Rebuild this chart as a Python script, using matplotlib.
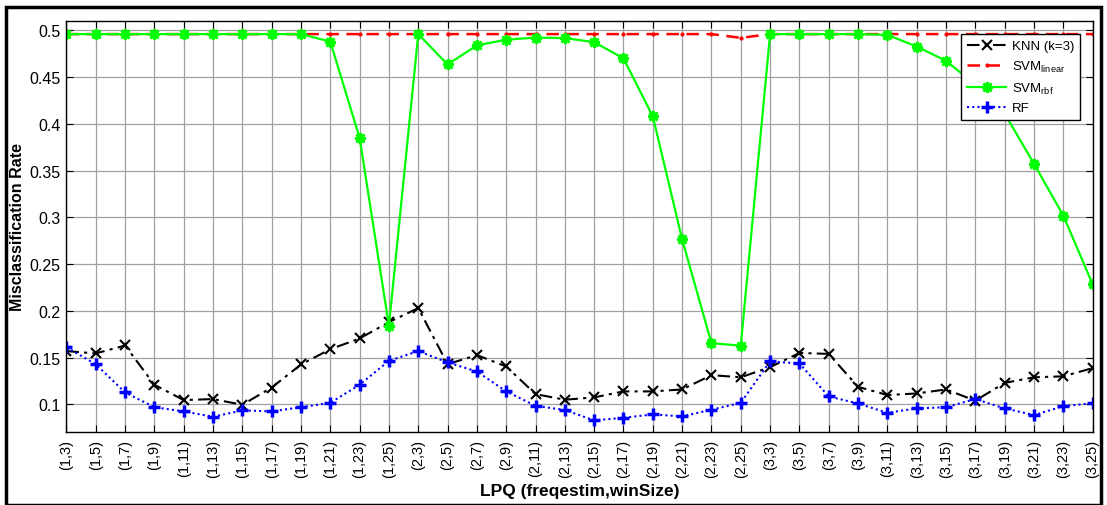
import numpy as np
import matplotlib.pyplot as plt
from matplotlib.patches import Rectangle

plt.rcParams['font.family'] = ['Liberation Sans', 'DejaVu Sans']
plt.rcParams['mathtext.fontset'] = 'custom'
plt.rcParams['mathtext.rm'] = 'Liberation Sans'
plt.rcParams['mathtext.it'] = 'Liberation Sans'
plt.rcParams['mathtext.bf'] = 'Liberation Sans:bold'

# categories: LPQ (freqestim, winSize)
freqs = [1, 2, 3]
win_sizes = [3, 5, 7, 9, 11, 13, 15, 17, 19, 21, 23, 25]
labels = ['(%d,%d)' % (f, w) for f in freqs for w in win_sizes]

knn = [0.157, 0.1545, 0.163, 0.121, 0.1046, 0.1057, 0.0996, 0.118, 0.1427, 0.159, 0.1705, 0.188,
       0.203, 0.143, 0.1527, 0.1406, 0.111, 0.105, 0.1075, 0.1139, 0.1139, 0.116, 0.1313, 0.129,
       0.1398, 0.155, 0.154, 0.1188, 0.110, 0.1117, 0.116, 0.104, 0.123, 0.129, 0.130, 0.1388]
svm_linear = [0.496, 0.496, 0.496, 0.496, 0.496, 0.496, 0.496, 0.496, 0.496, 0.496, 0.496, 0.496,
              0.496, 0.496, 0.496, 0.496, 0.496, 0.496, 0.496, 0.496, 0.496, 0.496, 0.496, 0.492,
              0.496, 0.496, 0.496, 0.496, 0.496, 0.496, 0.496, 0.496, 0.496, 0.496, 0.496, 0.496]
svm_rbf = [0.496, 0.496, 0.496, 0.496, 0.496, 0.496, 0.496, 0.496, 0.496, 0.488, 0.385, 0.184,
           0.496, 0.4635, 0.484, 0.490, 0.4923, 0.4917, 0.4874, 0.470, 0.408, 0.2766, 0.1655, 0.1628,
           0.496, 0.496, 0.496, 0.496, 0.4952, 0.4827, 0.4674, 0.442, 0.411, 0.3574, 0.302, 0.2285]
rf = [0.161, 0.143, 0.1128, 0.097, 0.0925, 0.0868, 0.0936, 0.0925, 0.097, 0.1017, 0.121, 0.1466,
      0.157, 0.1449, 0.1352, 0.1139, 0.0985, 0.094, 0.0829, 0.0857, 0.0893, 0.0872, 0.0943, 0.1017,
      0.146, 0.1438, 0.1085, 0.101, 0.091, 0.0957, 0.097, 0.1057, 0.0957, 0.0886, 0.098, 0.1014]

x = np.arange(1, len(labels) + 1)

fig = plt.figure(figsize=(11.07, 5.06), dpi=100)
ax = fig.add_axes([0.060, 0.1443, 0.927, 0.8122])

ax.plot(x, knn, color='black', linestyle=(0, (6, 2.5, 1.5, 2.5)), linewidth=1.5,
        marker='x', markersize=7, markeredgewidth=1.5, label='KNN (k=3)')
ax.plot(x, svm_linear, color='red', linestyle=(0, (5, 3)), linewidth=1.8,
        marker='.', markersize=4, label=r'SVM$_{\mathrm{linear}}$')
ax.plot(x, svm_rbf, color='#00ff00', linestyle='-', linewidth=1.6,
        marker=(8, 2, 0), markersize=8, markeredgewidth=1.9, label=r'SVM$_{\mathrm{rbf}}$')
ax.plot(x, rf, color='blue', linestyle=(0, (1, 1.5)), linewidth=1.5,
        marker='+', markersize=8, markeredgewidth=2.5, label='RF')

ax.set_xlim(1, len(labels))
ax.set_ylim(0.0705, 0.510)
ax.set_xticks(x)
ax.set_xticklabels(labels, rotation=90, fontsize=10.5)
ax.set_yticks([0.1, 0.15, 0.2, 0.25, 0.3, 0.35, 0.4, 0.45, 0.5])
ax.set_yticklabels(['0.1', '0.15', '0.2', '0.25', '0.3', '0.35', '0.4', '0.45', '0.5'], fontsize=11.5)
ax.tick_params(direction='in', top=True, right=True, length=5, width=0.8)
ax.tick_params(axis='x', pad=5)
ax.tick_params(axis='y', pad=4)
ax.grid(True, color='#a0a0a0', linewidth=0.9)
ax.set_axisbelow(True)
for s in ax.spines.values():
    s.set_linewidth(1.0)

ax.set_xlabel('LPQ (freqestim,winSize)', fontsize=12.5, fontweight='bold', labelpad=4)
ax.set_ylabel('Misclassification Rate', fontsize=11.5, fontweight='bold', labelpad=3)

leg = ax.legend(loc='upper right', bbox_to_anchor=(0.9876, 0.9684), borderaxespad=0, fontsize=9.5,
                handlelength=3.0, fancybox=False, framealpha=1, edgecolor='black',
                borderpad=0.45, labelspacing=0.5, handletextpad=0.4)
leg.get_frame().set_linewidth(1.0)

# outer black frame
fig.patches.append(Rectangle((6 / 1107, 0.3 / 506), 1095 / 1107, 497.5 / 506, transform=fig.transFigure,
                             fill=False, edgecolor='black', linewidth=2.5))

fig.savefig('out.png', dpi=100)
